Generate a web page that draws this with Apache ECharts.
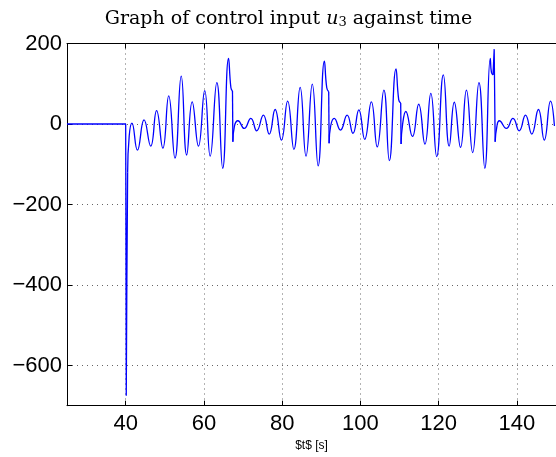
<!DOCTYPE html>
<html><head><meta charset="utf-8">
<script src="https://cdn.jsdelivr.net/npm/echarts@6/dist/echarts.min.js"></script>
<style>html,body{margin:0;padding:0;background:#fff}#c{width:556px;height:457px}</style>
</head><body><div id="c"></div>
<script>
// Tick labels
const xTicks = [40, 60, 80, 100, 120, 140];
const yTicks = [-600, -400, -200, 0, 200];
// Signal segments [t (s), u3]
const startSeg = [[25,0],[40,0],[40.05,-175],[40.15,-675],[40.3,-400],[40.5,-120]];
const burst1 = [[40.5,-120],[40.9,-30],[41.6,2],[43.0,-65],[44.7,10],[46.4,-55],[47.9,33],[49.5,-60],[51.0,70],[52.6,-85],[54.2,119],[55.6,-77],[57.0,55],[58.6,-55],[60.2,83],[61.6,-80],[63.3,103],[64.8,-110],[66.3,163],[66.9,90],[67.3,82]];
const jump1 = [[67.3,82],[67.4,-44]];
const burst2 = [[67.4,-44],[67.8,-5],[68.7,8],[70.3,-11],[72.0,14],[73.5,-17],[75.2,22],[76.7,-25],[78.2,36],[79.8,-40],[81.4,57],[83.0,-63],[84.6,91],[86.1,-80],[87.7,99],[89.2,-104],[90.8,156],[91.4,90],[91.9,80]];
const jump2 = [[91.9,80],[92.0,-48]];
const burst3 = [[92.0,-48],[92.4,-5],[93.3,14],[94.9,-15],[96.6,22],[98.1,-23],[99.6,35],[101.1,-38],[102.8,55],[104.3,-57],[106.0,84],[107.4,-91],[109.1,137],[109.8,60],[110.3,52]];
const jump3 = [[110.3,52],[110.4,-50]];
const burst4 = [[110.4,-50],[110.8,0],[111.6,31],[113.3,-31],[114.9,49],[116.5,-50],[118.0,76],[119.5,-81],[121.2,122],[122.7,-55],[124.0,54],[125.6,-58],[127.1,84],[128.7,-71],[130.3,103],[131.8,-110],[133.2,163],[133.5,128],[133.9,122]];
const jump4 = [[133.9,122],[134.2,186],[134.45,-44]];
const burst5 = [[134.45,-44],[134.9,-5],[135.5,8],[137.3,-11],[139.0,14],[140.6,-17],[142.2,22],[143.8,-25],[145.5,36],[147.0,-40],[148.6,57],[149.6,-5]];

const smoothSegs = [burst1, burst2, burst3, burst4, burst5];
const sharpSegs = [startSeg, jump1, jump2, jump3, jump4];

const lineStyle = {color: '#0000ff', width: 1.3};
const series = [];
sharpSegs.forEach(d => series.push({type: 'line', xAxisIndex: 0, data: d, showSymbol: false, smooth: false, lineStyle, silent: true, animation: false}));
smoothSegs.forEach(d => series.push({type: 'line', xAxisIndex: 0, data: d, showSymbol: false, smooth: 0.5, lineStyle, silent: true, animation: false}));

const gridDots = {show: true, lineStyle: {color: '#666', width: 1, type: [1, 4]}};
const labelFont = {fontFamily: 'Liberation Sans', fontSize: 22, color: '#000'};

const chart = echarts.init(document.getElementById('c'), null, {renderer: 'canvas'});
chart.setOption({
  animation: false,
  backgroundColor: '#fff',
  title: {
    text: 'Graph of control input {i|u}{s|3} against time',
    left: 288.5, top: 9, padding: 0, textAlign: 'center',
    textStyle: {fontFamily: 'DejaVu Serif', fontSize: 19, fontWeight: 'normal', color: '#000',
      rich: {i: {fontFamily: 'DejaVu Serif', fontStyle: 'italic', fontSize: 19, color: '#000'},
             s: {fontFamily: 'DejaVu Serif', fontSize: 13, color: '#000', verticalAlign: 'bottom', padding: [7, 0, 0, 0]}}}
  },
  grid: {left: 67, right: -3, top: 43.5, bottom: 51.3},
  xAxis: [{
    type: 'value', min: 25, max: 150, position: 'bottom',
    name: '$t$ [s]', nameLocation: 'middle', nameGap: 31,
    nameTextStyle: {fontFamily: 'Liberation Sans', fontSize: 12, color: '#000'},
    axisLine: {show: true, onZero: false, lineStyle: {color: '#000', width: 1}},
    axisTick: {show: true, inside: true, length: 5, customValues: xTicks, lineStyle: {color: '#000'}},
    axisLabel: {show: true, customValues: xTicks, margin: 7, ...labelFont},
    splitLine: gridDots
  }, {
    type: 'value', min: 25, max: 150, position: 'top',
    axisLine: {show: true, onZero: false, lineStyle: {color: '#000', width: 1}},
    axisTick: {show: true, inside: true, length: 5, customValues: xTicks, lineStyle: {color: '#000'}},
    axisLabel: {show: false}, splitLine: {show: false}
  }],
  yAxis: {
    type: 'value', min: -700, max: 200,
    axisLine: {show: true, onZero: false, lineStyle: {color: '#000', width: 1}},
    axisTick: {show: true, inside: true, length: 5, customValues: yTicks, lineStyle: {color: '#000'}},
    axisLabel: {show: true, customValues: yTicks, margin: 5, ...labelFont,
      formatter: v => String(v).replace('-', '\u2212')},
    splitLine: gridDots
  },
  series: series
});
</script></body></html>
